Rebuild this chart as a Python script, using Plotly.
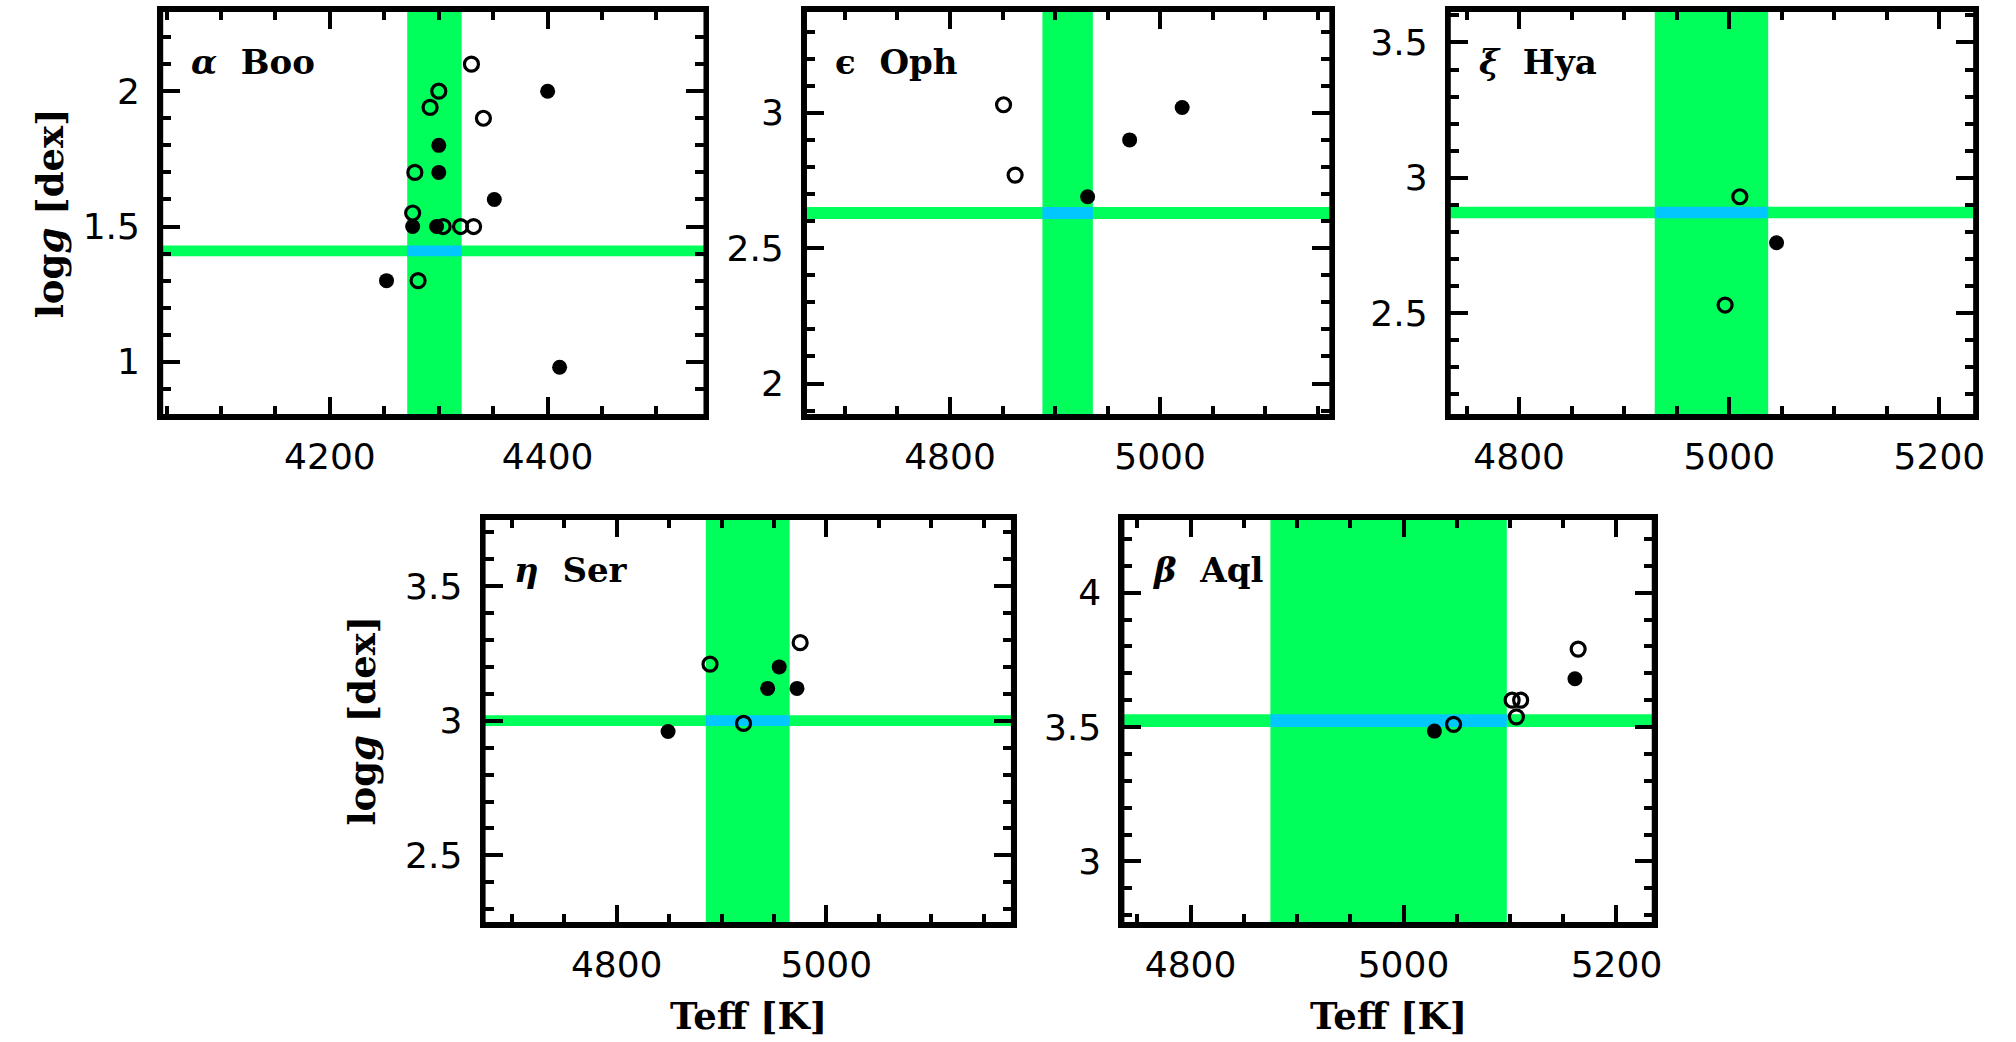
import plotly.graph_objects as go

W, H = 2016, 1042

# Reference parameters of each star (centre and half-width of the shaded bands)
star_labels = ["<i>α</i>\u00a0 Boo", "ϵ\u00a0 Oph", "<i>ξ</i>\u00a0 Hya", "<i>η</i>\u00a0 Ser", "<i>β</i>\u00a0 Aql"]
teff_ref = [4296, 4912, 4983, 4925, 4986]
teff_err = [25, 24, 54, 40, 111]
logg_ref = [1.41, 2.63, 2.872, 3.00, 3.524]
logg_err = [0.02, 0.022, 0.021, 0.02, 0.024]

# Literature determinations (filled and open symbols)
boo_filled_teff = [4400, 4300, 4300, 4351, 4276, 4298, 4252, 4411]
boo_filled_logg = [2.0, 1.8, 1.7, 1.6, 1.5, 1.5, 1.3, 0.98]
boo_open_teff = [4330, 4300, 4292, 4341, 4278, 4276, 4304, 4320, 4332, 4281]
boo_open_logg = [2.1, 2.0, 1.94, 1.9, 1.7, 1.55, 1.5, 1.5, 1.5, 1.3]

oph_filled_teff = [4931, 4971, 5021]
oph_filled_logg = [2.69, 2.90, 3.02]
oph_open_teff = [4851, 4862]
oph_open_logg = [3.03, 2.77]

hya_filled_teff = [5045]
hya_filled_logg = [2.76]
hya_open_teff = [5010, 4996]
hya_open_logg = [2.93, 2.53]

ser_filled_teff = [4849, 4944, 4955, 4972]
ser_filled_logg = [2.96, 3.12, 3.20, 3.12]
ser_open_teff = [4889, 4921, 4975]
ser_open_logg = [3.21, 2.99, 3.29]

aql_filled_teff = [5029, 5161]
aql_filled_logg = [3.485, 3.68]
aql_open_teff = [5047, 5102, 5110, 5106, 5164]
aql_open_logg = [3.51, 3.60, 3.60, 3.538, 3.79]

filled_teff = [boo_filled_teff, oph_filled_teff, hya_filled_teff, ser_filled_teff, aql_filled_teff]
filled_logg = [boo_filled_logg, oph_filled_logg, hya_filled_logg, ser_filled_logg, aql_filled_logg]
open_teff = [boo_open_teff, oph_open_teff, hya_open_teff, ser_open_teff, aql_open_teff]
open_logg = [boo_open_logg, oph_open_logg, hya_open_logg, ser_open_logg, aql_open_logg]

# Axis limits per panel
x_ranges = [[4045, 4545], [4662, 5163], [4733, 5234], [4673, 5178], [4736, 5235]]
y_ranges = [[0.80, 2.30], [1.88, 3.38], [2.12, 3.62], [2.245, 3.753], [2.767, 4.278]]

# Panel frames in pixels: left, right, top, bottom
panel_px = [(162, 709, 10, 416), (809, 1338, 10, 416), (1456, 1985, 10, 416),
            (486, 1018, 518, 924), (1128, 1662, 518, 924)]

GREEN = "rgb(0,255,90)"
BLUE = "rgb(0,200,255)"
TICK_FONT = dict(family="DejaVu Sans", size=36, color="black")
TITLE_FONT = dict(family="DejaVu Serif", size=37, color="black", weight="bold")

fig = go.Figure()
annotations = []
shapes = []

for i in range(5):
    n = i + 1
    xa = "x" if n == 1 else f"x{n}"
    ya = "y" if n == 1 else f"y{n}"
    x0, x1 = x_ranges[i]
    y0, y1 = y_ranges[i]
    tl, th = teff_ref[i] - teff_err[i], teff_ref[i] + teff_err[i]
    gl, gh = logg_ref[i] - logg_err[i], logg_ref[i] + logg_err[i]

    # vertical Teff band
    fig.add_trace(go.Scatter(x=[tl, th, th, tl, tl], y=[y0, y0, y1, y1, y0], fill="toself",
                             fillcolor=GREEN, line=dict(width=0), mode="lines",
                             hoverinfo="skip", showlegend=False, xaxis=xa, yaxis=ya))
    # horizontal logg band
    fig.add_trace(go.Scatter(x=[x0, x1, x1, x0, x0], y=[gl, gl, gh, gh, gl], fill="toself",
                             fillcolor=GREEN, line=dict(width=0), mode="lines",
                             hoverinfo="skip", showlegend=False, xaxis=xa, yaxis=ya))
    # overlap of the two bands
    fig.add_trace(go.Scatter(x=[tl, th, th, tl, tl], y=[gl, gl, gh, gh, gl], fill="toself",
                             fillcolor=BLUE, line=dict(width=0), mode="lines",
                             hoverinfo="skip", showlegend=False, xaxis=xa, yaxis=ya))
    # filled symbols
    fig.add_trace(go.Scatter(x=filled_teff[i], y=filled_logg[i], mode="markers",
                             marker=dict(symbol="circle", size=15, color="black",
                                         line=dict(width=0)),
                             showlegend=False, xaxis=xa, yaxis=ya))
    # open symbols
    fig.add_trace(go.Scatter(x=open_teff[i], y=open_logg[i], mode="markers",
                             marker=dict(symbol="circle-open", size=14, color="black",
                                         line=dict(width=3.2, color="black")),
                             showlegend=False, xaxis=xa, yaxis=ya))

    l, r, t, b = panel_px[i]
    common = dict(showline=True, linewidth=4, linecolor="black", mirror="allticks",
                  ticks="inside", tickwidth=3.5, tickcolor="black", ticklen=19,
                  showgrid=False, zeroline=False, tickfont=TICK_FONT,
                  fixedrange=True)
    xkey = "xaxis" if n == 1 else f"xaxis{n}"
    ykey = "yaxis" if n == 1 else f"yaxis{n}"
    fig.update_layout({
        xkey: dict(common, domain=[l / W, r / W], range=[x0, x1], anchor=ya,
                   tick0=0, dtick=200, ticklabelstandoff=6,
                   minor=dict(ticks="inside", dtick=50, ticklen=10, tickwidth=3.5,
                              tickcolor="black", showgrid=False)),
        ykey: dict(common, domain=[1 - b / H, 1 - t / H], range=[y0, y1], anchor=xa,
                   tick0=0, dtick=0.5, ticklabelstandoff=10,
                   minor=dict(ticks="inside", dtick=0.1, ticklen=10, tickwidth=3.5,
                              tickcolor="black", showgrid=False)),
    })

    # star name inside the panel
    annotations.append(dict(text=f"<b>{star_labels[i]}</b>", xref=f"{xa} domain",
                            yref=f"{ya} domain", x=0.0, y=1.0, xshift=28, yshift=-52,
                            xanchor="left", yanchor="middle", showarrow=False,
                            font=dict(family="DejaVu Serif", size=34, color="black")))

    # frame drawn on top of the bands
    shapes.append(dict(type="rect", xref=f"{xa} domain", yref=f"{ya} domain",
                       x0=0, x1=1, y0=0, y1=1, line=dict(color="black", width=4),
                       layer="above"))

# axis titles
for i in (0, 3):
    xa = "x" if i == 0 else f"x{i + 1}"
    ya = "y" if i == 0 else f"y{i + 1}"
    shift = 111 if i == 0 else 122
    annotations.append(dict(text="log<i>g</i> [dex]", xref=f"{xa} domain", yref=f"{ya} domain",
                            x=0, y=0.5, xshift=-shift, textangle=-90, xanchor="center",
                            yanchor="middle", showarrow=False, font=TITLE_FONT))
for i in (3, 4):
    xa = f"x{i + 1}"
    ya = f"y{i + 1}"
    annotations.append(dict(text="Teff [K]", xref=f"{xa} domain", yref=f"{ya} domain",
                            x=0.5, y=0, yshift=-92, xanchor="center", yanchor="middle",
                            showarrow=False, font=TITLE_FONT))

fig.update_layout(width=W, height=H, margin=dict(l=0, r=0, t=0, b=0),
                  paper_bgcolor="white", plot_bgcolor="white",
                  annotations=annotations, shapes=shapes, showlegend=False)

fig.write_html("out.html", config=dict(displayModeBar=False))
